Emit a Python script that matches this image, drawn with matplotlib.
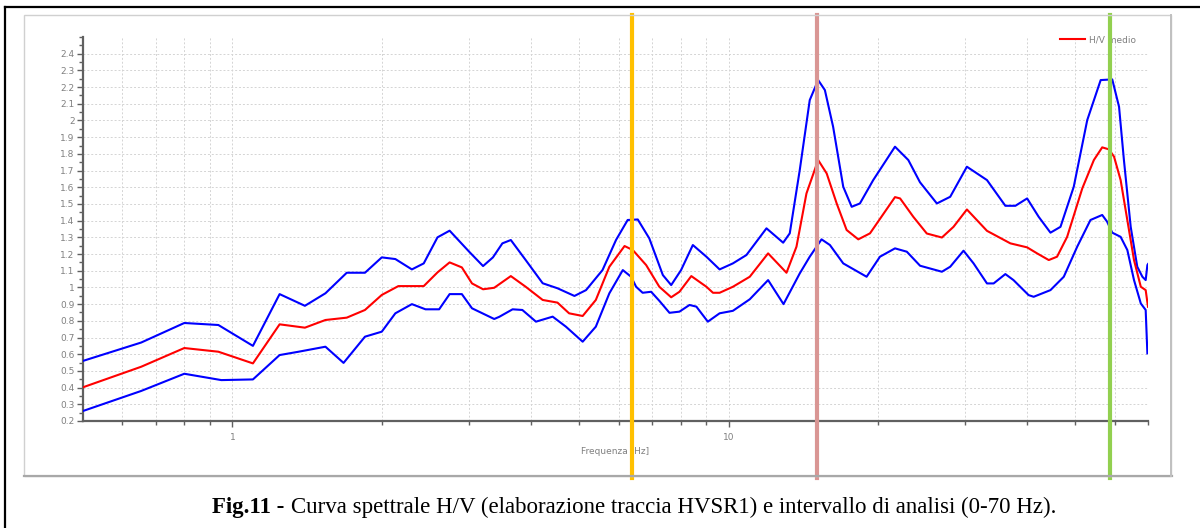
import matplotlib
matplotlib.use("Agg")
import matplotlib.pyplot as plt
from matplotlib.lines import Line2D
from matplotlib.patches import Rectangle
from matplotlib.ticker import FixedLocator, FuncFormatter, MultipleLocator, NullFormatter

# H/V curve (frequency in Hz, H/V ratio)
F_UPPER = [0.50, 0.655, 0.80, 0.937, 1.10, 1.245, 1.40, 1.54, 1.70, 1.85, 2.00, 2.13,
           2.30, 2.43, 2.59, 2.74, 3.00, 3.20, 3.35, 3.50, 3.64, 3.90, 4.22, 4.52,
           4.89, 5.16, 5.57, 5.93, 6.26, 6.56, 6.92, 7.37, 7.66, 8.02, 8.47, 9.02,
           9.59, 10.2, 10.86, 11.92, 12.88, 13.28, 13.91, 14.57, 15.15, 15.63, 16.24,
           17.02, 17.70, 18.39, 19.56, 21.64, 23.02, 24.3, 26.28, 27.96, 30.21, 33.16,
           36.11, 37.83, 39.95, 42.15, 44.52, 46.64, 49.6, 52.8, 56.2, 59.3, 61.2,
           62.6, 64.6, 66.6, 68.2, 69.25, 69.8, 70.0]
HV_UPPER = [0.56, 0.67, 0.787, 0.775, 0.65, 0.96, 0.89, 0.965, 1.088, 1.088, 1.18, 1.17,
            1.108, 1.144, 1.30, 1.34, 1.214, 1.128, 1.18, 1.264, 1.284, 1.164, 1.025, 0.995,
            0.949, 0.984, 1.104, 1.284, 1.404, 1.407, 1.294, 1.074, 1.014, 1.104, 1.254, 1.184,
            1.108, 1.144, 1.194, 1.354, 1.268, 1.324, 1.703, 2.122, 2.242, 2.182, 1.962,
            1.603, 1.483, 1.503, 1.643, 1.843, 1.763, 1.63, 1.503, 1.543, 1.723, 1.643,
            1.489, 1.489, 1.533, 1.423, 1.328, 1.363, 1.603, 2.002, 2.242, 2.246, 2.082,
            1.763, 1.363, 1.124, 1.064, 1.044, 1.134, 1.14]

F_MEAN = [0.50, 0.655, 0.80, 0.937, 1.10, 1.245, 1.40, 1.54, 1.70, 1.85, 2.00, 2.16,
          2.43, 2.59, 2.74, 2.90, 3.04, 3.20, 3.37, 3.64, 3.90, 4.22, 4.52, 4.77,
          5.08, 5.40, 5.75, 6.17, 6.41, 6.82, 7.25, 7.66, 7.96, 8.41, 9.02, 9.30,
          9.59, 10.2, 11.03, 12.01, 13.08, 13.70, 14.35, 15.15, 15.76, 16.51, 17.29,
          18.25, 19.27, 21.64, 22.16, 23.56, 25.08, 26.9, 28.39, 30.21, 31.65, 33.16,
          36.96, 39.95, 41.84, 44.17, 45.9, 48.1, 51.6, 54.45, 56.6, 58.4, 59.8,
          61.65, 63.6, 65.6, 67.7, 69.25, 70.0]
HV_MEAN = [0.402, 0.525, 0.637, 0.615, 0.545, 0.779, 0.759, 0.805, 0.819, 0.865, 0.955, 1.008,
           1.008, 1.09, 1.15, 1.12, 1.024, 0.989, 0.998, 1.068, 1.004, 0.925, 0.909, 0.845,
           0.829, 0.925, 1.124, 1.248, 1.224, 1.134, 1.004, 0.941, 0.974, 1.068, 1.004, 0.968,
           0.968, 1.004, 1.064, 1.204, 1.088, 1.244, 1.563, 1.763, 1.683, 1.503, 1.344,
           1.288, 1.324, 1.541, 1.533, 1.423, 1.323, 1.299, 1.363, 1.467, 1.403, 1.339,
           1.264, 1.24, 1.204, 1.164, 1.184, 1.303, 1.593, 1.763, 1.839, 1.827, 1.783,
           1.643, 1.403, 1.164, 1.004, 0.984, 0.884]

F_LOWER = [0.50, 0.655, 0.80, 0.95, 1.10, 1.245, 1.36, 1.54, 1.675, 1.85, 2.00, 2.13,
           2.30, 2.45, 2.61, 2.74, 2.90, 3.04, 3.37, 3.45, 3.67, 3.84, 4.09, 4.42,
           4.70, 5.08, 5.40, 5.75, 6.12, 6.36, 6.51, 6.71, 6.98, 7.25, 7.60, 7.96,
           8.34, 8.61, 9.08, 9.59, 10.2, 11.03, 12.01, 12.9, 13.91, 14.57, 15.39, 16.0,
           17.02, 18.97, 20.18, 21.64, 22.86, 24.31, 26.9, 27.96, 29.74, 31.16, 33.16,
           34.2, 36.11, 37.5, 40.23, 41.18, 44.52, 47.36, 50.4, 53.6, 56.6, 57.9, 59.3,
           61.65, 63.6, 65.6, 67.7, 69.25, 69.8]
HV_LOWER = [0.26, 0.38, 0.483, 0.445, 0.449, 0.595, 0.615, 0.645, 0.548, 0.705, 0.735, 0.845,
            0.90, 0.869, 0.869, 0.96, 0.96, 0.875, 0.811, 0.824, 0.869, 0.865, 0.795, 0.825,
            0.765, 0.675, 0.765, 0.965, 1.104, 1.064, 1.004, 0.968, 0.974, 0.92, 0.848, 0.855,
            0.895, 0.885, 0.795, 0.845, 0.86, 0.929, 1.044, 0.90, 1.084, 1.184, 1.288, 1.254,
            1.144, 1.064, 1.184, 1.234, 1.214, 1.13, 1.094, 1.124, 1.22, 1.144, 1.024,
            1.024, 1.08, 1.044, 0.954, 0.944, 0.984, 1.064, 1.244, 1.404, 1.434, 1.394, 1.328,
            1.303, 1.224, 1.044, 0.904, 0.865, 0.605]

# analysis markers (Hz) and their colours
MARK_FREQS = [6.4, 15.1, 58.6]
MARK_COLORS = ["#ffc000", "#d99694", "#92d050"]

W, H = 1200, 528


def fx(px):
    return px / W


def fy(py):
    return 1 - py / H


fig = plt.figure(figsize=(W / 100, H / 100), dpi=100)
fig.patch.set_facecolor("white")

# outer black border (top + left) and inner light gray panel
fig.add_artist(Line2D([fx(5), fx(1200)], [fy(7), fy(7)], color="black", lw=1.6))
fig.add_artist(Line2D([fx(5), fx(5)], [fy(7), fy(528)], color="black", lw=1.6))
fig.add_artist(Rectangle((fx(24), fy(476)), fx(1171) - fx(24), fy(15) - fy(476),
                         fill=False, edgecolor="#d0d0d0", lw=1.0))
fig.add_artist(Line2D([fx(24), fx(1172)], [fy(476), fy(476)], color="#a8a8a8", lw=1.6))
fig.add_artist(Line2D([fx(1171), fx(1171)], [fy(15), fy(476)], color="#c0c0c0", lw=1.4))

ax = fig.add_axes([fx(83), fy(421), fx(1148) - fx(83), fy(37) - fy(421)])
ax.set_xscale("log")
ax.set_xlim(0.5, 70)
ax.set_ylim(0.2, 2.5)

ax.plot(F_UPPER, HV_UPPER, color="#0000ff", lw=1.5, zorder=3)
ax.plot(F_LOWER, HV_LOWER, color="#0000ff", lw=1.5, zorder=3)
ax.plot(F_MEAN, HV_MEAN, color="#ff0000", lw=1.5, zorder=4, label="H/V medio")

grid_x = [0.6, 0.7, 0.8, 0.9, 1, 2, 3, 4, 5, 6, 7, 8, 9, 10, 20, 30, 40, 50, 60, 70]
ax.xaxis.set_major_locator(FixedLocator([1, 10]))
ax.xaxis.set_minor_locator(FixedLocator([g for g in grid_x if g not in (1, 10)]))
ax.xaxis.set_major_formatter(FuncFormatter(lambda v, p: f"{v:g}"))
ax.xaxis.set_minor_formatter(NullFormatter())
ax.yaxis.set_major_locator(FixedLocator([round(0.2 + 0.1 * i, 1) for i in range(23)]))
ax.yaxis.set_minor_locator(MultipleLocator(0.05))
ax.yaxis.set_major_formatter(FuncFormatter(lambda v, p: f"{v:g}"))

for g in grid_x:
    ax.axvline(g, color="#d4d4d4", lw=0.7, ls=(0, (2, 2)), zorder=1)
for i in range(23):
    ax.axhline(0.2 + 0.1 * i, color="#d4d4d4", lw=0.7, ls=(0, (2, 2)), zorder=1)

for s in ("top", "right"):
    ax.spines[s].set_visible(False)
for s in ("left", "bottom"):
    ax.spines[s].set_color("#606060")
    ax.spines[s].set_linewidth(1.6)

ax.tick_params(axis="both", which="major", length=4, width=1.0, color="#606060",
               labelsize=6.5, labelcolor="#808080", pad=2)
ax.tick_params(axis="both", which="minor", length=3, width=1.0, color="#606060")
ax.tick_params(axis="x", which="major", pad=5)

ax.set_xlabel("Frequenza [Hz]", fontsize=6.5, color="#808080", labelpad=3)

leg = ax.legend(loc="center left", bbox_to_anchor=((1060 - 83) / 1065, (421 - 40) / 384),
                frameon=False, fontsize=6.5, handlelength=2.8, handletextpad=0.4,
                borderpad=0, borderaxespad=0)
for t in leg.get_texts():
    t.set_color("#808080")

# vertical marker lines spanning the whole panel
for f, c in zip(MARK_FREQS, MARK_COLORS):
    ax.axvline(f, ymin=-(478 - 421) / 384, ymax=1 + (37 - 15) / 384, color=c,
               lw=3.0, clip_on=False, zorder=6)

fig.text(fx(284), fy(513), "Fig.11 -", fontsize=16.5, fontweight="bold",
         family="Liberation Serif", ha="right", va="baseline")
fig.text(fx(291), fy(513),
         "Curva spettrale H/V (elaborazione traccia HVSR1) e intervallo di analisi (0-70 Hz).",
         fontsize=16.5, family="Liberation Serif", ha="left", va="baseline")

fig.savefig("out.png", dpi=100)
